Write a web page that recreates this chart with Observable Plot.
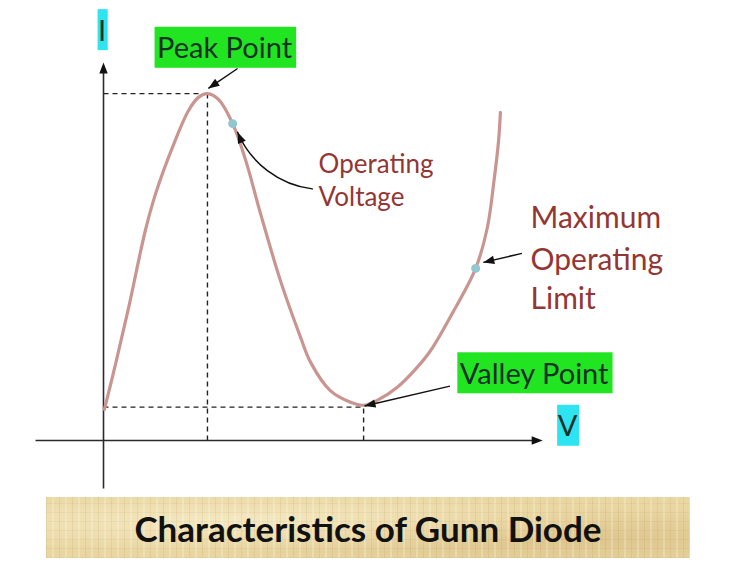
<!DOCTYPE html>
<html>
<head>
<meta charset="utf-8">
<script src="https://cdn.jsdelivr.net/npm/d3@7"></script>
<script src="https://cdn.jsdelivr.net/npm/@observablehq/plot@0.6"></script>
<style>
  html, body { margin: 0; padding: 0; background: #fff; }
  body { width: 743px; height: 566px; position: relative; overflow: hidden; }
  #chart { position: absolute; left: 0; top: 0; }
  #banner {
    position: absolute; left: 46px; top: 497px; width: 644px; height: 61px;
    display: flex; align-items: center; justify-content: center;
    font: bold 35px Lato, sans-serif; color: #111;
    background-color: #e9d6a2;
    background-image:
      repeating-linear-gradient(90deg, rgba(150,110,50,0.10) 0 1px, transparent 1px 6px, rgba(255,250,230,0.25) 6px 8px, transparent 8px 13px),
      repeating-linear-gradient(0deg, rgba(150,110,50,0.07) 0 1px, transparent 1px 9px),
      radial-gradient(ellipse at 30% 40%, rgba(255,248,220,0.55), transparent 60%),
      radial-gradient(ellipse at 80% 70%, rgba(200,165,100,0.35), transparent 55%);
  }
</style>
</head>
<body>
<div id="chart"></div>
<div id="banner">Characteristics of Gunn Diode</div>
<script>
// I–V characteristic of the Gunn diode (V, I in arbitrary units)
const curveV = [0.02, 0.27, 0.56, 0.93, 1.16, 1.53, 1.89, 2.11, 2.31, 2.56, 2.87, 3.16, 3.49, 3.93, 4.38, 4.60, 5.04, 5.49, 5.78, 6.08, 6.53, 6.97, 7.27, 7.76, 8.27, 8.53, 8.67, 8.78, 8.82];
const curveI = [0.83, 2.05, 3.55, 5.60, 6.59, 7.81, 8.80, 9.15, 9.25, 9.09, 8.45, 7.47, 6.05, 4.27, 2.75, 2.09, 1.33, 1.02, 0.94, 1.07, 1.42, 1.95, 2.40, 3.41, 4.59, 5.68, 6.85, 8.00, 8.75];

// Peak and valley points
const keyNames = ["Peak", "Valley"];
const keyV = [2.31, 5.78];
const keyI = [9.25, 0.89];

// Marked operating points on the curve
const markV = [2.87, 8.27];
const markI = [8.45, 4.59];

// Axes extents
const axisXStart = -1.51, axisXEnd = 9.76;
const axisYStart = -1.28, axisYEnd = 10.08;

// Boxed labels
const boxText = ["Peak Point", "Valley Point", "I", "V"];
const boxKind = ["green", "green", "cyan", "cyan"];
const boxV = [2.69, 9.57, -0.03, 10.31];
const boxI = [10.44, 1.76, 10.91, 0.36];

// Red annotation lines
const noteText = ["Operating", "Voltage", "Maximum", "Operating", "Limit"];
const noteGroup = ["ov", "ov", "max", "max", "max"];
const noteV = [4.78, 4.78, 9.49, 9.49, 9.49];
const noteI = [7.35, 6.47, 5.93, 4.81, 3.75];

// Annotation arrows (from label to point)
const arrowFromV = [2.98, 4.64, 9.30, 7.70];
const arrowFromI = [9.92, 6.71, 4.99, 1.45];
const arrowToV = [2.33, 2.98, 8.44, 5.80];
const arrowToI = [9.39, 8.22, 4.75, 0.92];
const arrowBend = [0, 30, 0, 0];

// ---- build tables ----
const curve = curveV.map((v, i) => ({V: v, I: curveI[i]}));
const keys = keyNames.map((n, i) => ({name: n, V: keyV[i], I: keyI[i]}));
const marksPts = markV.map((v, i) => ({V: v, I: markI[i]}));
const boxes = boxText.map((t, i) => ({text: t, kind: boxKind[i], V: boxV[i], I: boxI[i]}));
const notes = noteText.map((t, i) => ({text: t, group: noteGroup[i], V: noteV[i], I: noteI[i]}));
const arrows = arrowFromV.map((v, i) => ({x1: v, y1: arrowFromI[i], x2: arrowToV[i], y2: arrowToI[i], bend: arrowBend[i]}));

const W = 743, H = 495;
const xRange = [103, 553], yRange = [440, 65];
const sx = d3.scaleLinear([0, 10], xRange);
const sy = d3.scaleLinear([0, 10], yRange);

// heading (screen, degrees clockwise from up) of each arrow at its tip
function tipRotate(d) {
  const dx = sx(d.x2) - sx(d.x1), dy = sy(d.y2) - sy(d.y1);
  const a = Math.atan2(dy, dx) + d.bend * Math.PI / 180;
  return Math.atan2(Math.cos(a), -Math.sin(a)) * 180 / Math.PI;
}
const heads = arrows.map(d => ({V: d.x2, I: d.y2, rot: tipRotate(d)}))
  .concat([{V: 0, I: axisYEnd, rot: 0}, {V: axisXEnd, I: 0, rot: 90}]);

const headSymbol = {
  draw(ctx) {
    ctx.moveTo(0, 0);
    ctx.lineTo(-4.2, 11);
    ctx.lineTo(4.2, 11);
    ctx.closePath();
  }
};

const chart = Plot.plot({
  width: W,
  height: H,
  x: {domain: [0, 10], range: xRange, axis: null},
  y: {domain: [0, 10], range: yRange, axis: null},
  style: {fontFamily: "Lato, sans-serif", background: "transparent", overflow: "visible"},
  marks: [
    // axes
    Plot.link([{x1: axisXStart, x2: axisXEnd - 0.1, y: 0}], {x1: "x1", x2: "x2", y1: "y", y2: "y", stroke: "#2b2b2b", strokeWidth: 1.6}),
    Plot.link([{y1: axisYStart, y2: axisYEnd - 0.1, x: 0}], {y1: "y1", y2: "y2", x1: "x", x2: "x", stroke: "#2b2b2b", strokeWidth: 1.6}),
    // dashed guides
    Plot.link(keys, {x1: 0, x2: "V", y1: "I", y2: "I", stroke: "#222", strokeWidth: 1.4, strokeDasharray: "5,4"}),
    Plot.link(keys, {x1: "V", x2: "V", y1: 0, y2: "I", stroke: "#222", strokeWidth: 1.4, strokeDasharray: "5,4"}),
    // curve
    Plot.line(curve, {x: "V", y: "I", curve: "catmull-rom", stroke: "#c99591", strokeWidth: 3.2}),
    // operating points
    Plot.dot(marksPts, {x: "V", y: "I", r: 4.5, fill: "#93c6d2", stroke: "none"}),
    // annotation arrows
    Plot.link(arrows.filter(d => d.bend === 0), {x1: "x1", y1: "y1", x2: "x2", y2: "y2", stroke: "#111", strokeWidth: 1.5}),
    Plot.arrow(arrows.filter(d => d.bend !== 0), {x1: "x1", y1: "y1", x2: "x2", y2: "y2", bend: 30, headLength: 0, stroke: "#111", strokeWidth: 1.5}),
    Plot.dot(heads, {x: "V", y: "I", rotate: "rot", symbol: headSymbol, fill: "#111", stroke: "none"}),
    // red notes
    Plot.text(notes.filter(d => d.group === "ov"), {x: "V", y: "I", text: "text", textAnchor: "start", lineAnchor: "middle", fontSize: 26, fill: "#943634"}),
    Plot.text(notes.filter(d => d.group === "max"), {x: "V", y: "I", text: "text", textAnchor: "start", lineAnchor: "middle", fontSize: 30, fill: "#943634"}),
    // boxed labels
    Plot.text(boxes, {x: "V", y: "I", text: "text", textAnchor: "middle", lineAnchor: "middle", fontSize: 29, fill: "#15302a"})
  ]
});

document.getElementById("chart").append(chart);

// draw the coloured backgrounds behind boxed labels
const boxFill = {green: "#22e522", cyan: "#2ee4f0"};
const svgRect = chart.getBoundingClientRect();
const kindOf = new Map(boxes.map(b => [b.text, b.kind]));
chart.querySelectorAll("text").forEach(t => {
  const kind = kindOf.get(t.textContent);
  if (!kind) return;
  const r = t.getBoundingClientRect();
  const padX = t.textContent.length > 1 ? 3 : 1;
  const padY = 3;
  const rect = document.createElementNS("http://www.w3.org/2000/svg", "rect");
  rect.setAttribute("x", r.left - svgRect.left - padX);
  rect.setAttribute("y", r.top - svgRect.top - padY);
  rect.setAttribute("width", r.width + 2 * padX);
  rect.setAttribute("height", r.height + 2 * padY);
  rect.setAttribute("fill", boxFill[kind]);
  const g = t.parentNode;
  g.insertBefore(rect, g.firstChild);
});
</script>
</body>
</html>
